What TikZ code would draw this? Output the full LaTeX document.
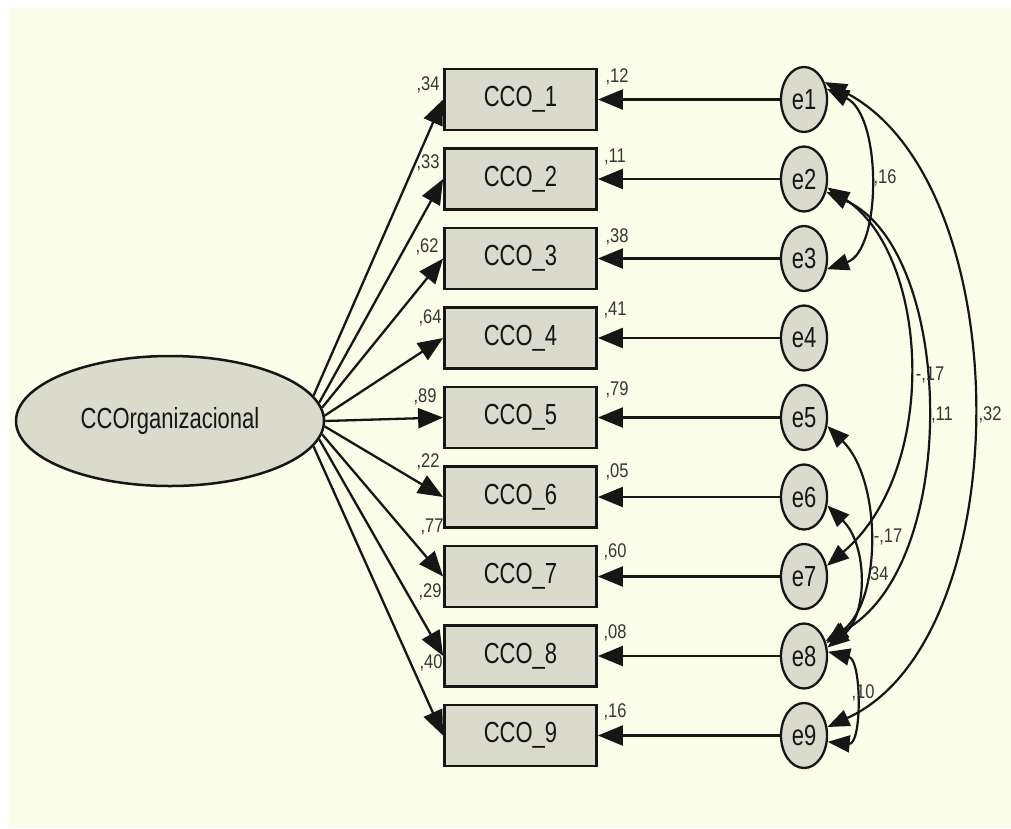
\documentclass[tikz,border=0pt]{standalone}
\usepackage{fontspec}
\setmainfont{Liberation Sans}
\usetikzlibrary{arrows.meta,shapes.geometric}
\definecolor{cream}{RGB}{250,253,232}
\definecolor{shade}{RGB}{218,219,205}
\definecolor{ink}{RGB}{22,22,22}
\definecolor{labink}{RGB}{55,55,55}
\newcommand\tallA[1]{\scalebox{1}[1.32]{#1}}
\newcommand\tallB[1]{\scalebox{1}[1.2]{#1}}
\begin{document}
\begin{tikzpicture}[x=1pt,y=-1pt,
  obs/.style={draw=ink,line width=2.8pt,fill=shade,minimum width=152pt,minimum height=61pt,inner sep=0pt,text=ink,font=\fontsize{22}{22}\selectfont},
  lat/.style={ellipse,draw=ink,line width=2.5pt,fill=shade,minimum width=308pt,minimum height=130pt,inner sep=0pt,text=ink,font=\fontsize{22}{22}\selectfont},
  err/.style={ellipse,draw=ink,line width=2.3pt,fill=shade,minimum width=46pt,minimum height=65pt,inner sep=0pt,text=ink,font=\fontsize{22}{22}\selectfont},
  load/.style={draw=ink,line width=2.3pt,-{Triangle[length=25pt,width=20pt]}},
  cov/.style={draw=ink,line width=2.2pt,{Triangle[length=22pt,width=17pt]}-{Triangle[length=22pt,width=17pt]}},
  lbl/.style={inner sep=0pt,text=labink,font=\fontsize{16.5}{17}\selectfont}]
\useasboundingbox (0,0) rectangle (1011,828);
\fill[white] (0,0) rectangle (1011,828);
\fill[cream] (9,8) rectangle (1011,828);

\node[lat] (F) at (170,421) {\tallA{CCOrganizacional}};
\foreach \i in {1,...,9}{
  \node[obs] (b\i) at (520.5,{99.5+79.5*(\i-1)}) {\tallA{CCO\_\i}};
  \node[err] (e\i) at (804,{99.5+79.5*(\i-1)}) {\tallA{e\i}};
}
\foreach \i in {1,...,9}{
  \pgfmathsetmacro{\ang}{(5-\i)*2.6}
  \draw[load] (F.\ang) -- (b\i.west);
  \draw[load] (e\i) -- (b\i);
}

% loadings
\node[lbl] (l1) at (428,85) {\tallB{,34}};
\node[lbl] (l2) at (428,163) {\tallB{,33}};
\node[lbl] (l3) at (427,247) {\tallB{,62}};
\node[lbl] (l4) at (430,318) {\tallB{,64}};
\node[lbl] (l5) at (425,397) {\tallB{,89}};
\node[lbl] (l6) at (428,462) {\tallB{,22}};
\node[lbl] (l7) at (432,527) {\tallB{,77}};
\node[lbl] (l8) at (430,592) {\tallB{,29}};
\node[lbl] (l9) at (431,663) {\tallB{,40}};
% squared multiple correlations
\node[lbl] (r1) at (617,77) {\tallB{,12}};
\node[lbl] (r2) at (615,157) {\tallB{,11}};
\node[lbl] (r3) at (617,237) {\tallB{,38}};
\node[lbl] (r4) at (615,310) {\tallB{,41}};
\node[lbl] (r5) at (617,390) {\tallB{,79}};
\node[lbl] (r6) at (617,472) {\tallB{,05}};
\node[lbl] (r7) at (615,552) {\tallB{,60}};
\node[lbl] (r8) at (615,633) {\tallB{,08}};
\node[lbl] (r9) at (615,712) {\tallB{,16}};

% covariances
\draw[cov] (e1.25) .. controls (882,115) and (882,250) .. (e3.-25);
\draw[cov] (e2.-20) .. controls (930,255) and (940,470) .. (e7.25);
\draw[cov] (e2.-30) .. controls (955,250) and (962,565) .. (e8.35);
\draw[cov] (e1.40) .. controls (1020,180) and (1020,640) .. (e9.20);
\draw[cov] (e5.-20) .. controls (882,480) and (882,600) .. (e8.30);
\draw[cov] (e6.-20) .. controls (868,545) and (868,615) .. (e8.20);
\draw[cov] (e8.10) .. controls (862,660) and (862,745) .. (e9.-15);

\node[lbl] (c1) at (885,178) {\tallB{,16}};
\node[lbl] (c2) at (930,375) {\tallB{-,17}};
\node[lbl] (c3) at (942,415) {\tallB{,11}};
\node[lbl] (c4) at (990,415) {\tallB{,32}};
\node[lbl] (c5) at (888,537) {\tallB{-,17}};
\node[lbl] (c6) at (877,575) {\tallB{,34}};
\node[lbl] (c7) at (863,693) {\tallB{,10}};
\end{tikzpicture}
\end{document}
